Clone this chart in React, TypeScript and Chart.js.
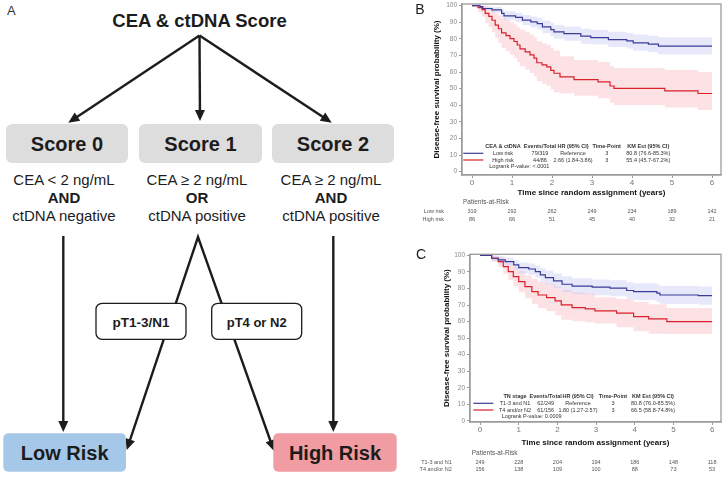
import React, { useEffect, useRef } from "react";
import { Chart, registerables } from "chart.js";

Chart.register(...registerables);

const FONT = '"Liberation Sans", Arial, Helvetica, sans-serif';
const INK = "#1c1c1c";
const BLUE = "#3b3b98";
const RED = "#d8202a";
const BLUE_BAND = "rgba(185,190,240,0.35)";
const RED_BAND = "rgba(250,165,175,0.32)";

// ---------- shared axis data ----------
const X_TICKS = [0, 1, 2, 3, 4, 5, 6];
const Y_TICKS = [0, 10, 20, 30, 40, 50, 60, 70, 80, 90, 100];
const X_TITLE = "Time since random assignment (years)";
const Y_TITLE = "Disease-free survival probability (%)";
const RISK_TITLE = "Patients-at-Risk";
const LEGEND_HEAD_REST = ["Events/Total", "HR (95% CI)", "Time-Point", "KM Est (95% CI)"];

// ---------- panel B ----------
const B_GROUP_TITLE = "CEA & ctDNA";
const B_GROUPS = ["Low risk", "High risk"];
const B_EVENTS = ["79/319", "44/86"];
const B_HR = ["Reference", "2.66 (1.84-3.86)"];
const B_TIMEPOINT = ["3", "3"];
const B_KM = ["80.8 (76.6-85.3%)", "55.4 (45.7-67.2%)"];
const B_LOGRANK = "Logrank P-value: <.0001";
const B_RISK_LOW = [319, 292, 262, 249, 234, 189, 142];
const B_RISK_HIGH = [86, 66, 51, 45, 40, 32, 21];

const B_LOW_T = [0, 0.2, 0.27, 0.5, 0.74, 0.8, 1.09, 1.26, 1.47, 1.63, 1.76, 1.97, 2.05, 2.3, 2.72, 2.97, 3.41, 3.87, 4.03, 4.41, 4.66, 6.0];
const B_LOW_S = [100, 99.4, 98.3, 97.5, 95.3, 93.9, 92.9, 91.3, 90.2, 89.2, 87.2, 85.6, 84.2, 83.2, 81.6, 80.8, 79.6, 78.8, 77.6, 76.8, 75.6, 75.6];
const B_LOW_UP = [100, 100, 99.6, 99.2, 97.7, 96.6, 95.7, 94.4, 93.5, 92.7, 91.0, 89.6, 88.4, 87.5, 86.1, 85.3, 84.3, 83.6, 82.6, 81.9, 80.9, 80.9];
const B_LOW_LO = [100, 98.7, 97.0, 95.8, 92.9, 91.2, 90.1, 88.2, 86.9, 85.7, 83.4, 81.6, 80.0, 78.9, 77.1, 76.6, 75.1, 74.2, 72.8, 71.9, 70.6, 70.6];

const B_HIGH_T = [0, 0.15, 0.25, 0.33, 0.42, 0.5, 0.58, 0.66, 0.74, 0.85, 0.95, 1.05, 1.13, 1.2, 1.33, 1.45, 1.55, 1.62, 1.75, 1.87, 1.97, 2.05, 2.2, 2.55, 3.15, 3.45, 3.55, 4.82, 5.65, 6.0];
const B_HIGH_S = [100, 98.8, 97.6, 95.3, 93.5, 91.2, 88.3, 86.1, 83.6, 82.0, 80.2, 78.4, 76.3, 74.0, 72.2, 70.4, 68.4, 65.6, 64.3, 63.1, 61.0, 59.3, 57.1, 55.4, 54.1, 51.6, 50.2, 48.7, 47.1, 47.1];
const B_HIGH_UP = [100, 100, 100, 99.5, 98.5, 97.0, 95.5, 94.0, 92.5, 91.3, 90.0, 88.6, 87.0, 85.5, 84.0, 82.5, 81.0, 78.5, 77.3, 76.3, 74.5, 73.0, 69.5, 67.2, 66.0, 63.6, 62.4, 61.2, 60.0, 60.0];
const B_HIGH_LO = [100, 96.0, 93.5, 89.5, 87.0, 84.0, 80.5, 77.5, 74.5, 72.5, 70.5, 68.5, 66.0, 63.5, 61.5, 59.5, 57.5, 54.5, 53.0, 51.8, 49.5, 47.8, 47.3, 45.7, 44.3, 41.5, 40.2, 38.6, 37.1, 37.1];

// ---------- panel C ----------
const C_GROUP_TITLE = "TN stage";
const C_GROUPS = ["T1-3 and N1", "T4 and/or N2"];
const C_EVENTS = ["62/249", "61/156"];
const C_HR = ["Reference", "1.80 (1.27-2.57)"];
const C_TIMEPOINT = ["3", "3"];
const C_KM = ["80.8 (76.0-85.5%)", "66.5 (58.8-74.8%)"];
const C_LOGRANK = "Logrank P-value: 0.0009";
const C_RISK_LOW = [249, 228, 204, 194, 186, 148, 118];
const C_RISK_HIGH = [156, 138, 109, 100, 88, 73, 53];

const C_LOW_T = [0, 0.3, 0.47, 0.65, 0.87, 1.0, 1.26, 1.43, 1.56, 1.69, 1.9, 2.12, 2.38, 2.9, 3.36, 3.79, 3.97, 4.57, 4.65, 5.64, 6.0];
const C_LOW_S = [100, 98.3, 97.3, 96.3, 94.3, 92.6, 91.8, 90.2, 88.2, 86.6, 84.6, 82.6, 81.4, 80.8, 80.2, 78.8, 78.1, 77.2, 76.1, 75.7, 75.7];
const C_LOW_UP = [100, 99.8, 99.2, 98.6, 97.1, 95.8, 95.1, 93.9, 92.2, 90.9, 89.1, 87.4, 86.2, 85.5, 85.0, 83.8, 83.2, 82.4, 81.5, 81.2, 81.2];
const C_LOW_LO = [100, 96.7, 95.3, 93.9, 91.4, 89.3, 88.4, 86.5, 84.2, 82.3, 80.1, 77.9, 76.5, 76.0, 75.3, 73.7, 72.9, 71.9, 70.6, 70.2, 70.2];

const C_HIGH_T = [0, 0.3, 0.47, 0.6, 0.73, 0.86, 1.0, 1.16, 1.34, 1.5, 1.72, 1.94, 2.1, 2.38, 2.72, 2.97, 3.53, 3.97, 4.36, 4.83, 6.0];
const C_HIGH_S = [100, 98.3, 96.3, 93.2, 90.2, 87.2, 84.2, 81.1, 78.1, 76.1, 74.5, 72.5, 70.1, 68.5, 67.7, 66.5, 65.1, 63.0, 61.6, 60.0, 60.0];
const C_HIGH_UP = [100, 100, 99.3, 97.3, 95.2, 92.9, 90.6, 88.1, 85.7, 84.1, 82.7, 81.1, 79.1, 77.6, 76.9, 74.8, 73.6, 71.8, 70.5, 68.2, 68.2];
const C_HIGH_LO = [100, 96.3, 93.2, 89.0, 85.2, 81.5, 77.8, 74.1, 70.5, 68.1, 66.3, 63.9, 61.1, 60.2, 59.6, 58.8, 56.6, 54.2, 52.7, 52.5, 52.5];

const pts = (t: number[], v: number[]) => t.map((x, i) => ({ x, y: v[i] }));

const PANEL_B = {
  letter: "B",
  groupTitle: B_GROUP_TITLE,
  groups: B_GROUPS,
  events: B_EVENTS,
  hr: B_HR,
  tp: B_TIMEPOINT,
  km: B_KM,
  logrank: B_LOGRANK,
  risk: [B_RISK_LOW, B_RISK_HIGH],
  low: { t: B_LOW_T, s: B_LOW_S, up: B_LOW_UP, lo: B_LOW_LO },
  high: { t: B_HIGH_T, s: B_HIGH_S, up: B_HIGH_UP, lo: B_HIGH_LO },
};

const PANEL_C = {
  letter: "C",
  groupTitle: C_GROUP_TITLE,
  groups: C_GROUPS,
  events: C_EVENTS,
  hr: C_HR,
  tp: C_TIMEPOINT,
  km: C_KM,
  logrank: C_LOGRANK,
  risk: [C_RISK_LOW, C_RISK_HIGH],
  low: { t: C_LOW_T, s: C_LOW_S, up: C_LOW_UP, lo: C_LOW_LO },
  high: { t: C_HIGH_T, s: C_HIGH_S, up: C_HIGH_UP, lo: C_HIGH_LO },
};

const GEO_B = {
  left: 400, top: 0, w: 328, h: 230,
  padTop: 4, padRight: 7, yAxisW: 62, xAxisH: 55,
  xMin: -0.25, xMax: 6.225, yMin: -2, yMax: 101,
  yTitlePad: 31.9, xTitlePad: 32.2,
  letter: [20, 10],
  legend: { sx: [63.3, 83.3], headY: 146.7, rowY: [153.3, 160], logY: 166.7, logX: 89.3, cols: [103, 140, 173, 206.7, 248.3] },
  risk: { titleX: 63, titleY: 202, labelX: 44, rowY: [211, 219] },
};

const GEO_C = {
  left: 400, top: 230, w: 328, h: 251,
  padTop: 24.3, padRight: 7, yAxisW: 70, xAxisH: 59,
  xMin: -0.26, xMax: 6.23, yMin: -0.7, yMax: 100.7,
  yTitlePad: 41.9, xTitlePad: 33.2,
  letter: [21, 25],
  legend: { sx: [73.3, 93.3], headY: 166.7, rowY: [173.3, 180], logY: 186.7, logX: 101.7, cols: [115, 145.7, 178, 213, 253] },
  risk: { titleX: 71.7, titleY: 223, labelX: 51.7, rowY: [232, 239.3] },
};

function KMChart({ panel, geo }: { panel: any; geo: any }) {
  const ref = useRef<HTMLCanvasElement>(null);
  useEffect(() => {
    const canvas = ref.current;
    if (!canvas) return;
    const overlay = {
      id: "overlay" + panel.letter,
      afterDraw(chart: any) {
        const { ctx, chartArea: ca } = chart;
        const xs = chart.scales.x;
        ctx.save();
        ctx.strokeStyle = "#9b9b9b";
        ctx.lineWidth = 1.3;
        ctx.strokeRect(ca.left, ca.top, ca.right - ca.left, ca.bottom - ca.top);
        // panel letter
        ctx.fillStyle = INK;
        ctx.font = `14px ${FONT}`;
        ctx.textAlign = "center";
        ctx.textBaseline = "middle";
        ctx.fillText(panel.letter, geo.letter[0], geo.letter[1]);
        // inset legend table
        const L = geo.legend;
        ctx.lineWidth = 1.2;
        [BLUE, RED].forEach((c, k) => {
          ctx.strokeStyle = c;
          ctx.beginPath();
          ctx.moveTo(L.sx[0], L.rowY[k]);
          ctx.lineTo(L.sx[1], L.rowY[k]);
          ctx.stroke();
        });
        ctx.fillStyle = "#333";
        ctx.font = `bold 5.5px ${FONT}`;
        const head = [panel.groupTitle, ...LEGEND_HEAD_REST];
        head.forEach((h: string, i: number) => ctx.fillText(h, L.cols[i], L.headY));
        ctx.font = `5.5px ${FONT}`;
        [0, 1].forEach((k) => {
          const row = [panel.groups[k], panel.events[k], panel.hr[k], panel.tp[k], panel.km[k]];
          row.forEach((c: string, i: number) => ctx.fillText(c, L.cols[i], L.rowY[k]));
        });
        ctx.textAlign = "left";
        ctx.fillText(panel.logrank, L.logX, L.logY);
        // patients at risk
        const R = geo.risk;
        ctx.fillStyle = "#555";
        ctx.font = `6.5px ${FONT}`;
        ctx.fillText(RISK_TITLE, R.titleX, R.titleY);
        ctx.font = `5.5px ${FONT}`;
        panel.risk.forEach((row: number[], k: number) => {
          ctx.textAlign = "right";
          ctx.fillText(panel.groups[k], R.labelX, R.rowY[k]);
          ctx.textAlign = "center";
          row.forEach((n, i) => ctx.fillText(String(n), xs.getPixelForValue(X_TICKS[i]), R.rowY[k]));
        });
        ctx.restore();
      },
    };
    const lineDs = (d: any, color: string) => ({
      data: pts(d.t, d.s),
      borderColor: color,
      borderWidth: 1.2,
      stepped: "before",
      pointRadius: 0,
      fill: false,
    });
    const bandDs = (t: number[], v: number[], fill: any, bg: string) => ({
      data: pts(t, v),
      borderColor: "rgba(0,0,0,0)",
      borderWidth: 0,
      stepped: "before",
      pointRadius: 0,
      fill,
      backgroundColor: bg,
    });
    const zeroPad = (s: any) => {
      s.paddingLeft = 0;
      s.paddingRight = 0;
      s.paddingTop = 0;
      s.paddingBottom = 0;
    };
    const chart = new Chart(canvas, {
      type: "line",
      data: {
        datasets: [
          lineDs(panel.low, BLUE),
          lineDs(panel.high, RED),
          bandDs(panel.low.t, panel.low.up, false, BLUE_BAND),
          bandDs(panel.low.t, panel.low.lo, "-1", BLUE_BAND),
          bandDs(panel.high.t, panel.high.up, false, RED_BAND),
          bandDs(panel.high.t, panel.high.lo, "-1", RED_BAND),
        ] as any,
      },
      options: {
        animation: false,
        responsive: false,
        maintainAspectRatio: false,
        layout: { autoPadding: false, padding: { left: 0, top: geo.padTop, right: geo.padRight, bottom: 0 } },
        plugins: { legend: { display: false }, tooltip: { enabled: false } },
        elements: { point: { radius: 0 }, line: { tension: 0 } },
        scales: {
          x: {
            type: "linear",
            min: geo.xMin,
            max: geo.xMax,
            afterBuildTicks: (s: any) => {
              s.ticks = X_TICKS.map((v) => ({ value: v }));
            },
            afterFit: (s: any) => {
              s.height = geo.xAxisH;
              zeroPad(s);
            },
            grid: { drawOnChartArea: false, drawTicks: true, tickLength: 3, color: "#9b9b9b", lineWidth: 1 },
            border: { display: true, color: "#9b9b9b", width: 1.3 },
            ticks: { autoSkip: false, maxRotation: 0, padding: 0, color: "#777", font: { family: FONT, size: 8 } },
            title: {
              display: true,
              text: X_TITLE,
              color: "#111",
              font: { family: FONT, size: 8, weight: "bold" },
              padding: { top: 0, bottom: geo.xTitlePad },
            },
          },
          y: {
            type: "linear",
            min: geo.yMin,
            max: geo.yMax,
            afterBuildTicks: (s: any) => {
              s.ticks = Y_TICKS.map((v) => ({ value: v }));
            },
            afterFit: (s: any) => {
              s.width = geo.yAxisW;
              zeroPad(s);
            },
            grid: { drawOnChartArea: false, drawTicks: true, tickLength: 3, color: "#9b9b9b", lineWidth: 1 },
            border: { display: true, color: "#9b9b9b", width: 1.3 },
            ticks: { autoSkip: false, padding: 2, color: "#888", font: { family: FONT, size: 6.5 } },
            title: {
              display: true,
              text: Y_TITLE,
              color: "#111",
              font: { family: FONT, size: 8, weight: "bold" },
              padding: { top: geo.yTitlePad, bottom: 0 },
            },
          },
        },
      } as any,
      plugins: [overlay],
    });
    return () => chart.destroy();
  }, []);
  return (
    <canvas
      ref={ref}
      width={geo.w}
      height={geo.h}
      style={{ position: "absolute", left: geo.left, top: geo.top, width: geo.w, height: geo.h }}
    />
  );
}

// ---------- panel A flow diagram ----------
function ArrowHead({ x1, y1, x2, y2 }: any) {
  const dx = x2 - x1, dy = y2 - y1, len = Math.hypot(dx, dy);
  const ux = dx / len, uy = dy / len;
  const hl = 11, hw = 5;
  const bx = x2 - ux * hl, by = y2 - uy * hl;
  return <polygon points={`${x2},${y2} ${bx - uy * hw},${by + ux * hw} ${bx + uy * hw},${by - ux * hw}`} fill={INK} />;
}

function Arrow({ x1, y1, x2, y2 }: any) {
  const dx = x2 - x1, dy = y2 - y1, len = Math.hypot(dx, dy);
  const ux = dx / len, uy = dy / len;
  return (
    <g>
      <line x1={x1} y1={y1} x2={x2 - ux * 9} y2={y2 - uy * 9} stroke={INK} strokeWidth={2.4} />
      <ArrowHead x1={x1} y1={y1} x2={x2} y2={y2} />
    </g>
  );
}

function FlowChart() {
  const T = { fontFamily: FONT, fill: INK } as any;
  const apex = { x: 198, y: 237 };
  const lt = { x: 126.7, y: 450 };
  const rt = { x: 274, y: 451 };
  const back = (p: any, k: number) => {
    const dx = p.x - apex.x, dy = p.y - apex.y, len = Math.hypot(dx, dy);
    return { x: p.x - (dx / len) * k, y: p.y - (dy / len) * k };
  };
  const lb = back(lt, 9), rb = back(rt, 9);
  const cols = [64, 197, 331];
  return (
    <svg width={400} height={481} style={{ position: "absolute", left: 0, top: 0 }}>
      <text x={7} y={15} fontSize={13} {...T} fill="#333">A</text>
      <text x={199.5} y={26.7} fontSize={18.5} fontWeight="bold" textAnchor="middle" {...T}>
        {"CEA & ctDNA Score"}
      </text>
      <Arrow x1={199.5} y1={35.5} x2={68.3} y2={122.7} />
      <Arrow x1={199.5} y1={35.5} x2={200} y2={121} />
      <Arrow x1={199.5} y1={35.5} x2={331.7} y2={122.7} />

      <rect x={6} y={124} width={122} height={39} rx={6} fill="#dddddd" />
      <rect x={139} y={124} width={123} height={39} rx={6} fill="#dddddd" />
      <rect x={272} y={124} width={122} height={39} rx={6} fill="#dddddd" />
      <text x={67} y={150.5} fontSize={20} fontWeight="bold" textAnchor="middle" {...T}>Score 0</text>
      <text x={200.5} y={150.5} fontSize={20} fontWeight="bold" textAnchor="middle" {...T}>Score 1</text>
      <text x={333} y={150.5} fontSize={20} fontWeight="bold" textAnchor="middle" {...T}>Score 2</text>

      <text x={cols[0]} y={185} fontSize={15} textAnchor="middle" {...T}>{"CEA < 2 ng/mL"}</text>
      <text x={cols[0]} y={203} fontSize={15} fontWeight="bold" textAnchor="middle" {...T}>AND</text>
      <text x={cols[0]} y={220.5} fontSize={15} textAnchor="middle" {...T}>ctDNA negative</text>

      <text x={cols[1]} y={185} fontSize={15} textAnchor="middle" {...T}>{"CEA ≥ 2 ng/mL"}</text>
      <text x={cols[1]} y={203} fontSize={15} fontWeight="bold" textAnchor="middle" {...T}>OR</text>
      <text x={cols[1]} y={220.5} fontSize={15} textAnchor="middle" {...T}>ctDNA positive</text>

      <text x={cols[2]} y={185} fontSize={15} textAnchor="middle" {...T}>{"CEA ≥ 2 ng/mL"}</text>
      <text x={cols[2]} y={203} fontSize={15} fontWeight="bold" textAnchor="middle" {...T}>AND</text>
      <text x={cols[2]} y={220.5} fontSize={15} textAnchor="middle" {...T}>ctDNA positive</text>

      <Arrow x1={63.3} y1={236} x2={63.3} y2={432} />
      <Arrow x1={333.3} y1={236} x2={333.3} y2={432} />

      <polyline
        points={`${lb.x},${lb.y} ${apex.x},${apex.y} ${rb.x},${rb.y}`}
        fill="none"
        stroke={INK}
        strokeWidth={2.4}
        strokeLinejoin="miter"
        strokeMiterlimit={10}
      />
      <ArrowHead x1={apex.x} y1={apex.y} x2={lt.x} y2={lt.y} />
      <ArrowHead x1={apex.x} y1={apex.y} x2={rt.x} y2={rt.y} />

      <rect x={96} y={303.3} width={90} height={36} rx={6} fill="#ffffff" stroke={INK} strokeWidth={1.3} />
      <rect x={211.7} y={303.3} width={90} height={36} rx={6} fill="#ffffff" stroke={INK} strokeWidth={1.3} />
      <text x={141} y={326.5} fontSize={13.5} fontWeight="bold" textAnchor="middle" {...T}>pT1-3/N1</text>
      <text x={256.7} y={326.5} fontSize={13} fontWeight="bold" textAnchor="middle" {...T}>pT4 or N2</text>

      <rect x={3.3} y={433.3} width={122.7} height={38.4} rx={5} fill="#a6c8e8" />
      <rect x={273.3} y={433.3} width={123.4} height={38.4} rx={5} fill="#f09ca2" />
      <text x={64.7} y={460} fontSize={20} fontWeight="bold" textAnchor="middle" {...T}>Low Risk</text>
      <text x={335} y={460} fontSize={20} fontWeight="bold" textAnchor="middle" {...T}>High Risk</text>
    </svg>
  );
}

export default function App() {
  return (
    <div style={{ position: "absolute", left: 0, top: 0, width: 728, height: 481, background: "#fff", overflow: "hidden" }}>
      <FlowChart />
      <KMChart panel={PANEL_B} geo={GEO_B} />
      <KMChart panel={PANEL_C} geo={GEO_C} />
    </div>
  );
}
